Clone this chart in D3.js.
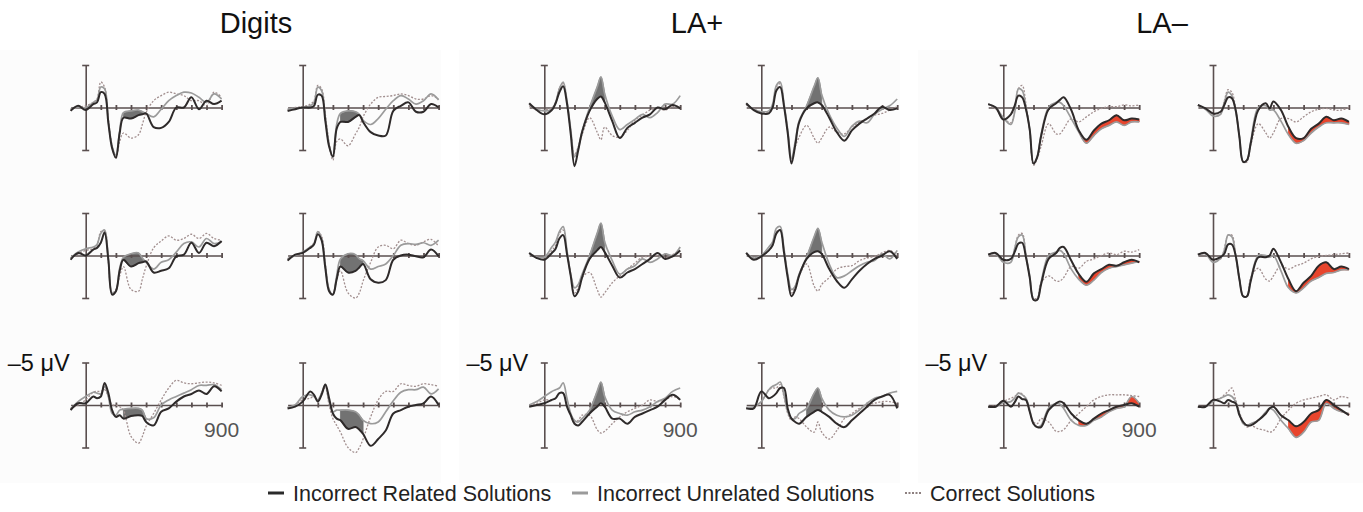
<!DOCTYPE html>
<html>
<head>
<meta charset="utf-8">
<script src="https://cdn.jsdelivr.net/npm/d3@7"></script>
<style>
body { margin: 0; background: #fff; }
svg { display: block; font-family: "Liberation Sans", Arial, Helvetica, sans-serif; }
</style>
</head>
<body>
<div id="container"></div>
<script>
// time points (ms) the waveforms were read at
const TIMES = [-100,-50,0,50,75,100,125,150,175,200,225,250,300,350,375,400,450,500,550,600,650,700,750,800,850,900];
const X_TICKS = [100,200,300,400,500,600,700,800,900];
const AMP = 5; // +/- 5 microvolts, negative up

const GROUPS = ["Digits", "LA+", "LA–"];
const SERIES = ["Incorrect Related Solutions", "Incorrect Unrelated Solutions", "Correct Solutions"];
const SHADE_WINDOWS = [[250, 400], [300, 400], [500, 900]];

// panels in reading order: row1 left, row1 right, row2 left, row2 right, row3 left, row3 right
const digitsRelated = [
  [0.4,-0.2,0.3,-0.4,-0.6,-1.8,-1.6,1.8,4.8,5.9,3.0,1.2,1.3,0.9,0.8,0.7,2.3,2.4,1.7,0,0,-1.2,0.2,-0.8,-0.4,-0.8],
  [0.4,0.2,0,0,-0.2,-1.5,-1.4,1.6,4.6,5.8,2.5,1.7,1.7,1.1,0.9,1.7,2.9,3.3,3.3,0.4,-0.2,-0.6,0.5,0.5,-0.4,0],
  [0.5,-0.3,0,-0.7,-0.9,-1.5,-2.7,0.5,4.6,4.2,1.8,0.5,1.3,0.9,0.8,0.7,2.0,1.8,1.5,0.1,-0.1,-1.5,-0.3,-1.5,-1.1,-1.7],
  [0.6,-0.1,-0.3,-0.9,-1.3,-2.5,-1.8,1.5,4.2,4.6,2.8,1.3,2.0,1.8,1.4,1.0,2.8,3.2,2.9,0.5,0,-0.1,0.1,0.2,-0.7,0.1],
  [0.6,-0.2,-0.2,-1.0,-0.8,-1.0,-2.6,-1.4,0.6,1.4,1.2,1.6,1.3,1.2,1.3,2.0,2.4,0.8,0.4,-0.4,-1.0,-1.3,-1.7,-1.3,-2.2,-1.6],
  [0.4,0.2,-0.4,-1.6,-1.2,-0.4,-1.2,-2.4,-0.8,1.0,1.6,1.8,2.8,2.6,2.9,3.4,4.8,4.0,3.0,1.0,0.6,0.2,0,-0.2,-1.0,0]
];
const digitsUnrelated = [
  [0.2,0,0,-0.6,-0.9,-2.4,-2.2,1.6,4.6,5.6,2.8,0.6,0.4,0.3,0.5,0.7,1.1,0.2,-0.8,-1.4,-1.8,-1.7,-1.2,-0.6,-1.6,-1.0],
  [0.2,0.1,0,-0.2,-0.6,-2.4,-2.0,1.2,4.4,5.8,2.0,0.7,0.4,0.5,0.8,1.5,2.0,1.3,0.2,-0.8,-1.4,-1.0,-0.4,-0.8,-1.6,-0.9],
  [0.3,-0.4,-0.8,-1.0,-1.3,-2.6,-3.0,0.4,4.4,4.2,1.5,0.2,-0.2,-0.3,0.3,0.8,1.6,0.8,0.5,-0.4,-1.4,-1.6,-1.0,-2.0,-1.4,-1.6],
  [0.4,0,-0.4,-1.0,-1.4,-2.8,-2.0,1.2,4.0,4.6,2.4,0.4,-0.2,-0.1,0.4,0.6,1.6,1.3,1.0,0,-1.2,-1.4,-1.3,-1.5,-1.2,-1.8],
  [0.5,-0.4,-1.0,-1.5,-1.4,-1.3,-2.2,-1.0,1.0,1.2,0.6,0.5,0.4,0.4,0.6,1.6,1.5,0,-0.6,-1.0,-1.4,-1.8,-2.3,-2.3,-2.4,-1.8],
  [0.3,0,-1.0,-1.2,-1.0,-0.6,-1.4,-2.4,-0.4,0.8,0.6,0.6,0.6,0.8,1.2,1.8,2.2,2.0,0.8,-0.5,-1.5,-1.8,-1.8,-2.1,-1.3,-1.9]
];
const digitsCorrect = [
  [0.2,0,-0.2,-0.6,-1.0,-3.0,-2.4,1.4,4.5,6.0,4.0,3.0,3.6,3.2,2.0,0.6,-0.8,-1.4,-1.8,-1.6,-1.4,-0.8,-0.8,-0.2,-1.8,-1.2],
  [0.3,0,-0.1,-0.4,-0.8,-2.6,-2.2,0.8,4.2,6.2,4.0,3.7,4.5,3.1,2.3,1.1,-0.4,-1.2,-1.3,-1.4,-1.6,-1.4,-1.0,-1.0,-1.4,-1.0],
  [0.3,-0.2,-0.6,-0.8,-1.2,-2.8,-2.9,0.8,4.4,4.0,2.4,1.3,4.0,4.2,2.8,1.3,-0.9,-1.7,-2.3,-1.8,-2.0,-2.5,-2.0,-2.6,-2.0,-1.8],
  [0.4,0,-0.3,-1.0,-1.5,-2.8,-2.3,1.0,4.0,4.6,2.8,1.8,4.4,5.0,4.4,3.0,0.8,-1.0,-1.2,-0.8,-1.8,-1.4,-1.2,-1.6,-1.9,-1.1],
  [0.4,0,-0.6,-1.5,-1.6,-1.6,-1.8,-1.0,0,0,0.2,0.6,3.7,4.5,3.7,2.5,1.0,-0.6,-2.0,-2.9,-2.6,-2.5,-2.6,-2.7,-2.6,-2.3],
  [0.3,0,-0.6,-0.8,-1.0,-0.6,-1.4,-2.0,0,1.6,2.4,3.2,5.0,5.6,5.0,4.0,1.4,-0.6,-1.6,-1.6,-2.5,-2.3,-2.2,-2.5,-2.4,-2.2]
];

const laPlusRelated = [
  [-0.5,0.3,0.8,0.3,-0.5,-1.8,-2.5,-0.5,3.1,6.9,5.0,2.9,0.4,-1.0,-1.3,-0.6,1.6,3.6,2.4,1.8,1.2,0.8,0,0.2,-0.3,0.1],
  [-0.5,0.3,0.7,0.7,0,-2.0,-2.4,-0.2,3.0,6.6,4.4,1.8,0.1,-0.5,-0.6,-0.3,1.2,2.9,3.9,2.7,1.9,1.3,0.7,-0.1,0.3,0.1],
  [-0.3,0.3,0.5,-0.3,-0.8,-2.0,-2.4,-0.2,2.4,4.8,4.2,2.6,0.4,-0.6,-1.0,-0.4,1.2,2.6,2.0,1.6,1.0,0.4,-0.3,0.4,0.1,-0.6],
  [-0.3,0.5,0.1,-0.6,-1.2,-2.6,-3.0,-0.4,2.6,4.8,4.0,2.4,0.4,-0.4,-0.5,-0.2,1.6,3.0,3.8,2.8,1.8,1.0,0.4,0,-0.5,0.4],
  [0.2,0,-0.2,-0.6,-0.8,-1.4,-1.4,0.2,1.2,2.2,2.4,2.0,1.0,0.2,-0.2,0.2,1.6,1.6,2.2,1.4,1.0,0.6,0.2,-0.6,-1.2,-0.6],
  [0.4,0.4,-1.6,-0.8,-1.0,-1.4,-2.0,-2.0,0.4,1.6,2.0,2.2,1.4,0.8,0.6,0.8,1.4,2.2,2.6,1.8,1.0,0.2,-0.6,-1.0,-1.2,0.4]
];
const laPlusUnrelated = [
  [-0.4,0.2,0.4,0.2,-0.6,-2.2,-3.0,-0.8,2.6,5.8,4.8,2.8,0,-2.4,-3.6,-1.6,1.0,2.6,2.0,1.4,0.8,1.2,0.6,-0.4,-0.4,-1.4],
  [-0.4,0.2,0.5,0.4,-0.4,-2.6,-3.0,-0.5,2.6,6.0,4.0,1.6,-0.2,-2.5,-3.5,-1.5,0.8,2.4,3.4,2.2,1.6,1.8,0.8,0.2,-0.2,-1.0],
  [-0.3,0.2,0.2,-1.0,-1.6,-2.8,-3.4,-0.6,2.2,3.8,3.4,2.2,0,-2.6,-3.8,-1.6,0.6,2.2,1.6,1.2,0.4,0.8,0.4,-0.2,0,-1.0],
  [-0.3,0.3,0,-1.0,-1.6,-3.2,-3.4,-0.8,2.2,4.0,3.6,2.2,0.2,-2.2,-3.2,-1.6,1.0,2.6,2.4,1.8,1.2,0.8,0.6,-0.2,0.4,-0.6],
  [0,-0.4,-1.0,-1.6,-1.8,-2.0,-2.6,-0.8,1.0,1.8,2.0,1.6,0.6,-1.6,-2.7,-1.0,0.6,1.0,1.2,0.8,0.6,0.2,-0.4,-0.8,-1.6,-2.0],
  [0.3,0.2,-0.4,-1.8,-2.2,-2.4,-2.7,-1.2,0.8,1.6,1.6,1.0,0.4,-1.4,-2.0,-0.8,0.6,1.2,1.4,1.2,0.6,-0.2,-0.8,-1.0,-1.4,-1.6]
];
const laPlusCorrect = [
  [-0.2,0.3,0.3,0,-0.5,-2.3,-2.8,-0.6,2.8,5.6,4.6,3.2,1.2,2.9,3.8,2.3,3.3,3.5,2.7,1.5,0.9,0.3,0.1,0.3,-0.1,-0.1],
  [-0.3,0.2,0.5,0.5,-0.2,-2.4,-2.8,-0.4,2.8,6.2,4.6,3.5,2.1,3.6,4.2,3.6,2.3,2.9,3.1,2.3,1.7,1.3,0.9,0.7,0.3,-0.1],
  [-0.3,0.2,0.3,-0.6,-1.2,-2.6,-3.0,-0.4,2.2,4.4,3.8,2.6,2.0,4.0,4.9,4.4,3.2,2.4,1.6,0.9,0.2,0.1,0,0.3,-0.1,-0.6],
  [-0.3,0.3,0.1,-0.6,-1.2,-2.8,-3.0,-0.5,2.4,4.4,3.6,2.4,1.0,3.6,4.2,3.4,2.6,1.6,1.3,1.2,0.6,0.3,0.1,-0.3,-0.6,0],
  [0,-0.2,-0.6,-0.6,-0.8,-1.4,-1.4,0,1.2,2.0,1.8,1.2,1.2,2.9,3.3,3.1,2.2,1.4,0.8,0.4,0,-0.6,-0.4,-0.6,-1.0,-0.6],
  [0.3,0.3,-0.4,-1.8,-2.0,-2.0,-2.4,-1.0,1.0,1.8,1.4,1.6,2.6,3.2,2.0,3.2,4.0,3.0,1.6,1.0,0.4,0,-0.2,-0.4,-0.4,-0.2]
];

const laMinusRelated = [
  [-0.4,0,1.4,0.8,-0.2,-1.4,-1.2,0.2,2.6,6.6,5.8,3.4,0.2,-0.5,-0.9,-1.2,0.3,2.7,3.8,2.7,1.9,1.5,0.9,1.5,1.3,1.4],
  [-0.3,0.1,0.7,0.5,-0.3,-1.2,-1.1,0.3,3.5,6.4,6.2,4.2,0.3,-0.5,0.1,-0.7,0.3,2.3,3.6,3.6,2.5,1.9,1.1,1.5,1.3,1.7],
  [-0.1,-0.3,0.5,0.4,-0.4,-1.4,-1.5,0.2,2.6,5.2,5.2,3.4,0.4,-0.3,-0.9,-1.0,0.6,2.2,3.1,2.1,1.6,1.1,1.2,0.8,0.5,0.8],
  [-0.1,-0.3,0.5,0.2,-0.2,-1.3,-1.3,0,2.8,4.8,4.8,3.0,0.2,0.2,0,-0.8,0.8,2.8,4.2,3.2,2.4,1.2,0.8,1.6,1.3,1.6],
  [0.2,0.2,-0.5,0.2,-0.3,-1.0,-0.7,-0.6,0.8,2.2,2.6,2.6,0.6,-0.2,-0.4,-0.2,1.0,1.8,2.2,1.6,1.0,0.6,0.2,0,-0.2,0.2],
  [0.2,0.2,-0.6,-0.4,-0.2,-0.6,-0.4,-0.2,1.2,2.0,2.4,2.4,1.8,1.0,0.4,0.2,1.2,1.8,2.5,2.0,1.0,0.6,-0.6,0,0.6,1.2]
];
const laMinusUnrelated = [
  [-0.4,0,1.2,2.0,0.6,-2.2,-2.0,0,2.6,6.6,5.8,3.2,0,-0.6,-0.6,-0.2,1.3,2.9,4.2,3.3,2.5,2.1,1.7,2.1,1.7,1.7],
  [-0.3,0.2,1.0,0.8,-0.6,-1.8,-1.4,0.4,3.4,6.4,6.2,4.0,0,-0.2,0.3,0.3,1.6,3.2,4.2,3.9,3.0,2.3,1.8,1.8,1.8,2.0],
  [-0.1,-0.2,0.8,0.8,-0.8,-2.2,-2.4,0,2.4,5.2,5.2,3.2,0,-0.4,-0.6,-0.2,1.6,2.8,3.5,2.9,2.0,1.5,1.3,1.1,0.9,0.7],
  [-0.1,-0.2,0.8,0.3,-0.6,-2.4,-2.2,0,2.8,4.8,4.8,2.8,0,0,0.2,0,1.8,3.8,4.4,3.8,3.0,2.6,2.1,2.0,1.7,1.7],
  [0.2,0.2,-0.3,-0.4,-0.8,-1.4,-1.2,-0.8,0.6,2.2,2.6,2.4,0.4,-0.2,-0.1,0.4,1.8,2.4,2.4,1.8,1.4,0.8,0.4,0.2,-1.0,-0.2],
  [0.2,0.2,-0.4,-0.8,-1.0,-1.2,-1.0,-0.4,1.0,2.2,2.4,2.2,1.8,0.8,0.4,0.6,1.8,2.8,3.8,3.2,2.0,1.8,-0.2,0.4,0.8,1.0]
];
const laMinusCorrect = [
  [-0.4,0.2,1.2,1.8,0.4,-2.2,-2.6,-0.4,2.8,6.8,6.0,4.6,1.9,3.1,3.1,2.5,1.3,1.7,1.1,0.5,0.1,-0.1,-0.1,-0.3,-0.2,-0.3],
  [-0.3,0.2,0.8,0.8,-0.8,-2.1,-1.8,0.2,3.4,6.4,6.4,4.4,1.9,3.0,3.6,3.0,1.3,1.3,1.7,1.1,0.5,0.2,0.1,0.3,0.3,0],
  [-0.1,-0.2,0.6,0.4,-0.8,-2.4,-2.6,0,2.6,5.0,5.0,3.2,2.4,3.0,3.0,2.6,1.3,1.5,0.7,0.4,0,-0.3,-0.1,-0.5,-0.4,-0.7],
  [-0.1,-0.2,0.6,0.4,-0.8,-2.4,-2.4,0,2.6,4.8,4.8,2.6,1.5,2.8,3.0,2.4,1.2,1.6,1.2,0.9,0.4,0.1,0,-0.1,-0.2,-0.3],
  [0.2,0.1,-0.4,-0.8,-1.0,-1.4,-1.3,-0.6,0.8,2.0,2.2,1.6,2.0,3.1,3.1,2.9,1.8,1.0,0.2,-0.6,-1.0,-1.2,-1.2,-1.2,-1.1,-1.0],
  [0.2,0.2,-0.6,-0.8,-1.2,-1.6,-2.0,-0.6,0.8,2.0,2.6,2.4,2.8,3.0,3.2,3.0,1.6,0.6,-0.2,-0.6,-0.8,-1.0,-1.2,-0.6,-1.0,-0.8]
];

const GROUP_DATA = [
  [digitsRelated, digitsUnrelated, digitsCorrect],
  [laPlusRelated, laPlusUnrelated, laPlusCorrect],
  [laMinusRelated, laMinusUnrelated, laMinusCorrect]
];

// layout
var WIDTH = 1363, HEIGHT = 512;
var COL_X = [[85.7, 302.7], [544.3, 761.3], [1003.3, 1213]];
var ROW_Y = [107.5, 255.5, 405];
var HALF_H = 42.5;
var PX_PER_MS = 0.151;
var TITLE_X = [256, 697, 1162];
var BG_X = [[0, 441], [459, 900], [918, 1363]];
var SHADE = ["#727272", "#727272", "#e8452d"];
var AXIS_COLOR = "#5a4f4f";
var LEGEND_X = [268, 572, 905];

var svg = d3.select("#container").append("svg")
    .attr("width", WIDTH)
    .attr("height", HEIGHT);

// very faint panel backgrounds
svg.selectAll("rect.bg")
    .data(BG_X)
    .enter()
    .append("rect")
    .attr("x", function(d){ return d[0]; })
    .attr("width", function(d){ return d[1] - d[0]; })
    .attr("y", 50)
    .attr("height", 433)
    .attr("fill", "#fcfcfc");

var draw_panel = function(parent, gi, pi)
{
    var col = pi % 2, row = Math.floor(pi / 2);
    var ax = COL_X[gi][col], base = ROW_Y[row];

    var x = d3.scaleLinear()
        .domain([-100, 900])
        .range([ax - 100 * PX_PER_MS, ax + 900 * PX_PER_MS]);
    var y = d3.scaleLinear()
        .domain([-AMP, AMP])
        .range([base - HALF_H, base + HALF_H]);

    var rel = GROUP_DATA[gi][0][pi],
        unrel = GROUP_DATA[gi][1][pi],
        corr = GROUP_DATA[gi][2][pi];

    var g = parent.append("g").classed("panel", true);

    // shaded difference between the two incorrect conditions
    var win = SHADE_WINDOWS[gi];
    var idx = d3.range(TIMES.length).filter(function(i){
        return TIMES[i] >= win[0] && TIMES[i] <= win[1];
    });
    var area = d3.area()
        .x(function(i){ return x(TIMES[i]); })
        .y0(function(i){ return y(rel[i]); })
        .y1(function(i){ return y(unrel[i]); })
        .curve(d3.curveCatmullRom.alpha(0.5));
    g.append("path")
        .attr("d", area(idx))
        .attr("fill", SHADE[gi])
        .attr("stroke", SHADE[gi])
        .attr("stroke-width", 0.8);

    // axes
    var xa = g.append("g")
        .attr("transform", "translate(0," + y(0) + ")")
        .call(d3.axisBottom(x).tickValues(X_TICKS).tickSize(2.5).tickSizeOuter(0).tickFormat(""));
    xa.selectAll(".tick line").attr("y1", -2.5).attr("stroke", AXIS_COLOR).attr("stroke-width", 1.8);
    xa.select(".domain").attr("stroke", AXIS_COLOR).attr("stroke-width", 1.6);

    var ya = g.append("g")
        .attr("transform", "translate(" + ax + ",0)")
        .call(d3.axisLeft(y).tickValues([-AMP, AMP]).tickSize(3.5).tickSizeOuter(0).tickFormat(""));
    ya.selectAll(".tick line").attr("x1", 3.5).attr("stroke", AXIS_COLOR).attr("stroke-width", 1.6);
    ya.select(".domain").attr("stroke", AXIS_COLOR).attr("stroke-width", 1.6);

    var line = d3.line()
        .x(function(d, i){ return x(TIMES[i]); })
        .y(function(d){ return y(d); })
        .curve(d3.curveCatmullRom.alpha(0.5));

    g.append("path").attr("d", line(corr))
        .attr("fill", "none").attr("stroke", "#a28f8f")
        .attr("stroke-width", 1.3).attr("stroke-dasharray", "2,1.6");
    g.append("path").attr("d", line(unrel))
        .attr("fill", "none").attr("stroke", "#9b9b9b")
        .attr("stroke-width", 1.7);
    g.append("path").attr("d", line(rel))
        .attr("fill", "none").attr("stroke", "#2e2a2a")
        .attr("stroke-width", 2);

    if ( pi === 4 ) {
        parent.append("text")
            .attr("x", ax - 16)
            .attr("y", base - HALF_H + 8)
            .attr("text-anchor", "end")
            .attr("font-size", "23.5px")
            .attr("fill", "#111")
            .text("–" + AMP + " μV");
        parent.append("text")
            .attr("x", x(900))
            .attr("y", base + 32)
            .attr("text-anchor", "middle")
            .attr("font-size", "21px")
            .attr("fill", "#555")
            .text("900");
    }
}

GROUPS.forEach(function(name, gi){
    var gg = svg.append("g").classed("group", true).attr("data-group", name);

    gg.append("text")
        .attr("x", TITLE_X[gi])
        .attr("y", 33)
        .attr("text-anchor", "middle")
        .attr("font-size", "29px")
        .attr("fill", "#111")
        .text(name);

    for ( var pi = 0; pi < 6; pi++ )
        draw_panel(gg, gi, pi);
});

// legend
var leg = svg.append("g").classed("legend", true);
var sym = [
    { stroke: "#2a2a2a", width: 3, dash: null },
    { stroke: "#9b9b9b", width: 3, dash: null },
    { stroke: "#8d8080", width: 2, dash: "2,1.5" }
];
SERIES.forEach(function(s, i){
    var lx = LEGEND_X[i];
    leg.append("line")
        .attr("x1", lx).attr("x2", lx + 16)
        .attr("y1", 493).attr("y2", 493)
        .attr("stroke", sym[i].stroke)
        .attr("stroke-width", sym[i].width)
        .attr("stroke-dasharray", sym[i].dash);
    leg.append("text")
        .attr("x", lx + 25)
        .attr("y", 500.5)
        .attr("font-size", "21.5px")
        .attr("fill", "#222")
        .text(s);
});
</script>
</body>
</html>
